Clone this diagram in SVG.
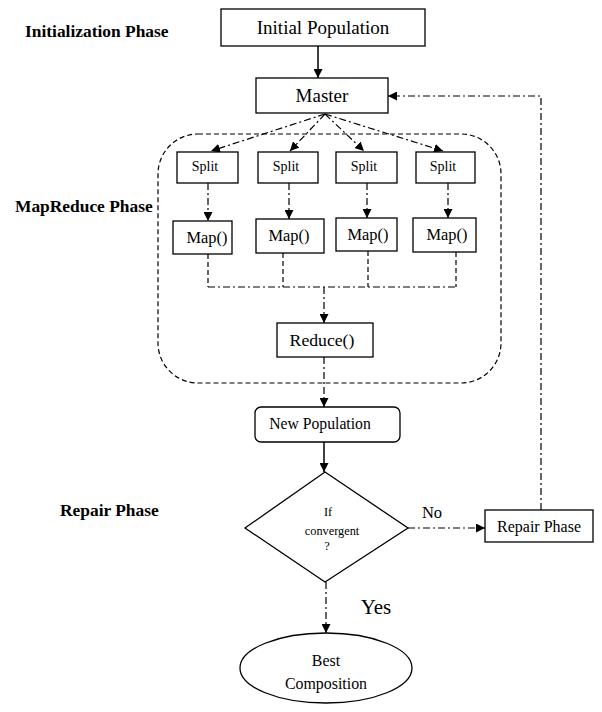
<svg xmlns="http://www.w3.org/2000/svg" width="602" height="712" viewBox="0 0 602 712">
  <style>
    .box { fill: #fff; stroke: #000; stroke-width: 1.3; }
    .lbl { font-family: "Liberation Serif", "Times New Roman", serif; fill: #000; text-anchor: middle; }
    .phase { font-family: "Liberation Serif", "Times New Roman", serif; font-weight: bold; font-size: 17.4px; fill: #000; }
    .solid { fill: none; stroke: #000; stroke-width: 1.5; }
    .dd { fill: none; stroke: #000; stroke-width: 1.2; stroke-dasharray: 7 3 2 3; }
    .dash { fill: none; stroke: #000; stroke-width: 1.2; stroke-dasharray: 5 3; }
  </style>
  <defs>
    <marker id="arrow" viewBox="0 0 10 10" refX="10" refY="5" markerWidth="9" markerHeight="9" markerUnits="userSpaceOnUse" orient="auto">
      <path d="M0,0 L10,5 L0,10 z" fill="#000"/>
    </marker>
  </defs>

  <rect width="602" height="712" fill="#fff"/>

  <!-- phase labels -->
  <text class="phase" x="25" y="37">Initialization Phase</text>
  <text class="phase" x="15" y="212">MapReduce Phase</text>
  <text class="phase" x="60" y="516">Repair Phase</text>

  <!-- MapReduce container -->
  <rect class="dash" x="158" y="134" width="343" height="249" rx="40" ry="40"/>

  <!-- connectors -->
  <g id="connectors">
    <line class="solid" x1="318" y1="46" x2="318" y2="78" marker-end="url(#arrow)"/>
    <line class="dd" x1="325" y1="114" x2="211" y2="151" marker-end="url(#arrow)"/>
    <line class="dd" x1="325" y1="114" x2="290" y2="151" marker-end="url(#arrow)"/>
    <line class="dd" x1="325" y1="114" x2="364" y2="151" marker-end="url(#arrow)"/>
    <line class="dd" x1="325" y1="114" x2="443" y2="151" marker-end="url(#arrow)"/>
    <line class="dd" x1="208" y1="183" x2="208" y2="221" marker-end="url(#arrow)"/>
    <line class="dd" x1="289" y1="183" x2="289" y2="219" marker-end="url(#arrow)"/>
    <line class="dd" x1="367" y1="183" x2="367" y2="218" marker-end="url(#arrow)"/>
    <line class="dd" x1="448" y1="183" x2="448" y2="218" marker-end="url(#arrow)"/>
    <path class="dash" d="M208,254 V287 M283,253 V287 M368,251 V287 M456,252 V287"/>
    <line class="dd" x1="208" y1="287" x2="456" y2="287"/>
    <line class="dd" x1="324" y1="287" x2="324" y2="323" marker-end="url(#arrow)"/>
    <line class="dd" x1="324" y1="357" x2="324" y2="407" marker-end="url(#arrow)"/>
    <line class="solid" x1="324" y1="442" x2="324" y2="472" marker-end="url(#arrow)"/>
    <line class="dd" x1="408" y1="528" x2="485" y2="528" marker-end="url(#arrow)"/>
    <polyline class="dd" points="541,510 541,96 388,96" marker-end="url(#arrow)"/>
    <line class="dd" x1="326" y1="582" x2="326" y2="633" marker-end="url(#arrow)"/>
  </g>

  <!-- nodes -->
  <g id="initial-population">
    <rect class="box" x="221" y="9" width="204" height="37"/>
    <text class="lbl" x="323" y="34" font-size="19">Initial Population</text>
  </g>
  <g id="master">
    <rect class="box" x="256" y="78" width="132" height="35"/>
    <text class="lbl" x="322" y="102" font-size="19">Master</text>
  </g>
  <g id="split-1">
    <rect class="box" x="177" y="152" width="61" height="31"/>
    <text class="lbl" x="205" y="171" font-size="14">Split</text>
  </g>
  <g id="split-2">
    <rect class="box" x="258" y="152" width="60" height="31"/>
    <text class="lbl" x="286" y="171" font-size="14">Split</text>
  </g>
  <g id="split-3">
    <rect class="box" x="336" y="152" width="61" height="31"/>
    <text class="lbl" x="364" y="171" font-size="14">Split</text>
  </g>
  <g id="split-4">
    <rect class="box" x="416" y="152" width="59" height="31"/>
    <text class="lbl" x="443" y="171" font-size="14">Split</text>
  </g>
  <g id="map-1">
    <rect class="box" x="173" y="221" width="59" height="33"/>
    <text class="lbl" x="207" y="243" font-size="16.4">Map()</text>
  </g>
  <g id="map-2">
    <rect class="box" x="256" y="219" width="68" height="34"/>
    <text class="lbl" x="289" y="241" font-size="16.4">Map()</text>
  </g>
  <g id="map-3">
    <rect class="box" x="336" y="218" width="61" height="33"/>
    <text class="lbl" x="368" y="240" font-size="16.4">Map()</text>
  </g>
  <g id="map-4">
    <rect class="box" x="413" y="218" width="63" height="34"/>
    <text class="lbl" x="447" y="240" font-size="16.4">Map()</text>
  </g>
  <g id="reduce">
    <rect class="box" x="277" y="323" width="96" height="34"/>
    <text class="lbl" x="322" y="346" font-size="17.7">Reduce()</text>
  </g>
  <g id="new-population">
    <rect class="box" x="255" y="407" width="145" height="35" rx="6" ry="6"/>
    <text class="lbl" x="320" y="429" font-size="15.7">New Population</text>
  </g>
  <g id="convergence-check">
    <polygon class="box" points="325,472 408,528 325,582 245,528"/>
    <text class="lbl" x="328" y="516" font-size="12.3">If</text>
    <text class="lbl" x="332" y="535" font-size="12.3">convergent</text>
    <text class="lbl" x="327" y="550" font-size="12.3">?</text>
  </g>
  <text class="lbl" x="432" y="518" font-size="16.5">No</text>
  <g id="repair-phase">
    <rect class="box" x="485" y="510" width="108" height="32"/>
    <text class="lbl" x="539" y="532" font-size="16">Repair Phase</text>
  </g>
  <text class="lbl" x="376" y="614" font-size="21">Yes</text>
  <g id="best-composition">
    <ellipse class="box" cx="326" cy="668" rx="86" ry="35"/>
    <text class="lbl" x="326" y="666" font-size="15.9">Best</text>
    <text class="lbl" x="326" y="689" font-size="15.9">Composition</text>
  </g>
</svg>
